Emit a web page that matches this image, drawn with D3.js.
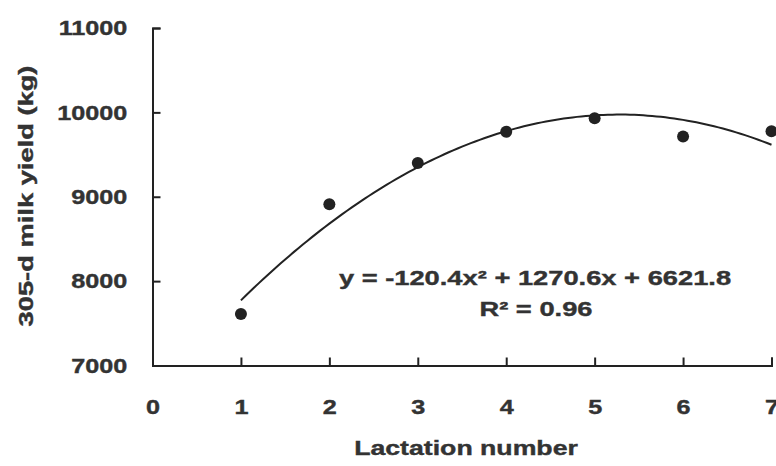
<!DOCTYPE html>
<html>
<head>
<meta charset="utf-8">
<script src="https://cdn.jsdelivr.net/npm/d3@7"></script>
<style>
body{margin:0;background:#fff}
text{font-family:"Liberation Sans",Arial,sans-serif;font-weight:bold;fill:#333;stroke:#333;stroke-width:0.4px}
</style>
</head>
<body>
<script>
// data
var lactation = [1, 2, 3, 4, 5, 6, 7];
var milkYield = [7610, 8910, 9400, 9770, 9930, 9715, 9775];
var xTicks = [0, 1, 2, 3, 4, 5, 6, 7];
var yTicks = [7000, 8000, 9000, 10000, 11000];
// fitted polynomial shown on the chart: a*x^2 + b*x + c
var fitCoef = [-120.4, 1270.6, 6621.8];
var fitRange = [1, 7];

var W = 776, H = 466;
var ink = "#222";

var svg = d3.select("body")
            .append("svg")
              .attr("width", W)
              .attr("height", H);

// scales
var x = d3.scaleLinear().domain([0, 7]).range([152.5, 771.5]);
var y = d3.scaleLinear().domain([7000, 11000]).range([365.5, 28]);

// axes (ticks point inward)
var xAxis = d3.axisBottom(x)
              .tickValues(xTicks)
              .tickFormat(d3.format("d"))
              .tickSizeInner(-8)
              .tickSizeOuter(-8)
              .tickPadding(34);
var yAxis = d3.axisLeft(y)
              .tickValues(yTicks)
              .tickFormat(d3.format("d"))
              .tickSizeInner(-8)
              .tickSizeOuter(-8)
              .tickPadding(21);

var gx = svg.append("g")
    .attr("transform", "translate(0,365.5)")
    .call(xAxis);
var gy = svg.append("g")
    .attr("transform", "translate(152.5,0)")
    .call(yAxis);

[gx, gy].forEach(function(g) {
  g.selectAll("path,line").attr("stroke", ink).attr("stroke-width", 2);
  g.selectAll("text")
    .attr("fill", "#333")
    .style("font-size", "21px")
    .attr("transform", "scale(1.2,1)");
});

// trend line
var fit = function(v) { return fitCoef[0]*v*v + fitCoef[1]*v + fitCoef[2]; };
var curveX = d3.range(fitRange[0], fitRange[1] + 0.001, 0.05);
svg.append("path")
    .datum(curveX)
    .attr("fill", "none")
    .attr("stroke", ink)
    .attr("stroke-width", 2)
    .attr("d", d3.line()
        .x(function(d) { return x(d); })
        .y(function(d) { return y(fit(d)); }));

// points
svg.selectAll("circle")
    .data(milkYield)
    .enter()
    .append("circle")
      .attr("cx", function(d, i) { return x(lactation[i]); })
      .attr("cy", function(d) { return y(d); })
      .attr("r", 6)
      .attr("fill", ink);

// equation
svg.append("text")
    .attr("text-anchor", "middle")
    .attr("transform", "translate(535,285) scale(1.3,1)")
    .style("font-size", "21px")
    .text("y = -120.4x\u00B2 + 1270.6x + 6621.8");
svg.append("text")
    .attr("text-anchor", "middle")
    .attr("transform", "translate(536,316) scale(1.3,1)")
    .style("font-size", "21px")
    .text("R\u00B2 = 0.96");

// axis titles
svg.append("text")
    .attr("text-anchor", "middle")
    .attr("transform", "translate(466,455) scale(1.27,1)")
    .style("font-size", "21px")
    .text("Lactation number");
svg.append("text")
    .attr("text-anchor", "middle")
    .attr("transform", "translate(33,196) rotate(-90) scale(1.3,1)")
    .style("font-size", "21px")
    .text("305-d milk yield (kg)");
</script>
</body>
</html>
